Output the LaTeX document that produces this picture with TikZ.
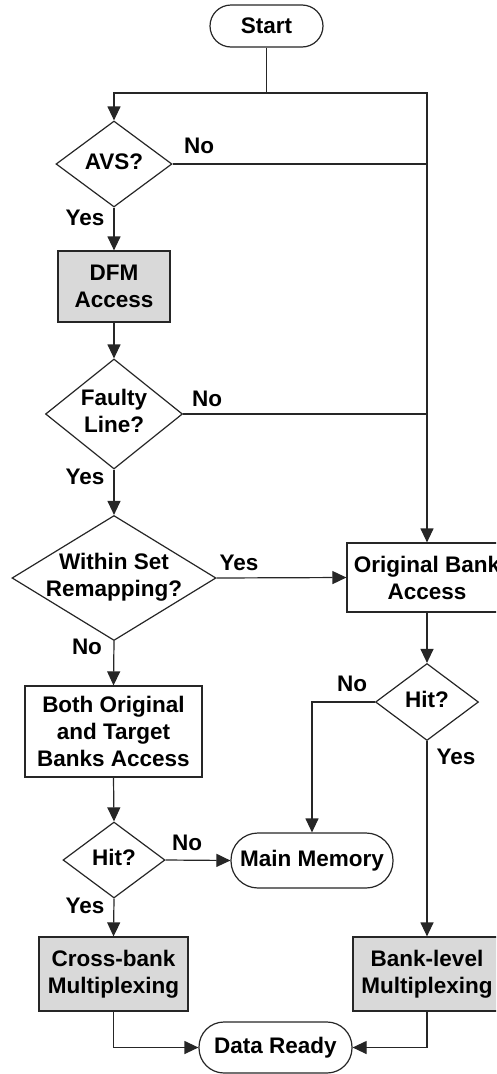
\documentclass[tikz,border=0pt]{standalone}
\usepackage{fontspec}
\setmainfont{Liberation Sans}
\usetikzlibrary{shapes.geometric,arrows.meta}

% text inside a diamond that does not widen the shape
\newcommand{\dtxt}[1]{\makebox[0pt]{\begin{tabular}{@{}c@{}}#1\end{tabular}}}

\begin{document}
\begin{tikzpicture}[x=1pt,y=-1pt,
  every node/.style={font=\fontsize{22.5}{27}\selectfont\bfseries},
  conn/.style={draw=black!85, line width=1.2pt},
  arr/.style={conn, -{Triangle[length=14pt,width=13pt]}},
  procbox/.style={draw=black!85, line width=1.2pt, fill=white, align=center, inner sep=0pt},
  shaded/.style={procbox, fill=black!15},
  terminal/.style={draw=black!85, line width=1.2pt, fill=white, rounded corners=#1, inner sep=0pt},
  decision/.style={diamond, draw=black!85, line width=1.2pt, fill=white, inner sep=0pt},
  tag/.style={inner sep=0pt}
]
\useasboundingbox (0,0) rectangle (496,1074);
\clip (0,0) rectangle (496,1074);

% terminals
\node[terminal=21pt, minimum width=113pt, minimum height=42pt] (start) at (266.5,26) {Start};
\node[terminal=27pt, minimum width=162pt, minimum height=55pt] (mem) at (312,860.5) {Main Memory};
\node[terminal=25pt, minimum width=153pt, minimum height=51pt] (ready) at (275.5,1047.5) {Data Ready};

% decisions
\node[decision, minimum width=116pt, minimum height=86pt] (avs) at (114,164) {\dtxt{AVS?}};
\node[decision, minimum width=137pt, minimum height=110pt] (faulty) at (114,414) {\dtxt{Faulty\\Line?}};
\node[decision, minimum width=204pt, minimum height=125pt] (within) at (114,578) {\dtxt{Within Set\\Remapping?}};
\node[decision, minimum width=102pt, minimum height=76pt] (lhit) at (114,860) {\dtxt{Hit?}};
\node[decision, minimum width=103pt, minimum height=77pt] (rhit) at (427,702) {\dtxt{Hit?}};

% processes
\node[shaded, minimum width=112pt, minimum height=71pt] (dfm) at (114,286.5) {DFM\\Access};
\node[procbox, minimum width=177pt, minimum height=91pt] (both) at (113.5,731.5) {Both Original\\and Target\\Banks Access};
\node[shaded, minimum width=149pt, minimum height=74pt] (cross) at (113.5,974) {Cross-bank\\Multiplexing};
\node[procbox, minimum width=160pt, minimum height=69pt] (orig) at (427,577.5) {Original Bank\\Access};
\node[shaded, minimum width=148pt, minimum height=74pt] (banklvl) at (427,974) {Bank-level\\Multiplexing};

% split below start
\coordinate (split) at (266.5,93);
\draw[conn] (start.south) -- (split);
\draw[arr] (split) -| (avs.north);
\draw[arr] (split) -| (orig.north);

% left column
\draw[conn] (avs.east) -- (avs.east -| orig.north);
\draw[arr] (avs.south) -- (dfm.north);
\draw[arr] (dfm.south) -- (faulty.north);
\draw[conn] (faulty.east) -- (faulty.east -| orig.north);
\draw[arr] (faulty.south) -- (within.north);
\draw[arr] (within.east) -- (orig.west);
\draw[arr] (within.south) -- (both.north);
\draw[arr] (both.south) -- (lhit.north);
\draw[arr] (lhit.east) -- (mem.west);
\draw[arr] (lhit.south) -- (cross.north);
\draw[arr] (cross.south) |- (ready.west);

% right column
\draw[arr] (orig.south) -- (rhit.north);
\draw[arr] (rhit.west) -| (mem.north);
\draw[arr] (rhit.south) -- (banklvl.north);
\draw[arr] (banklvl.south) |- (ready.east);

% branch labels
\node[tag] (l1) at (199,146) {No};
\node[tag] (l2) at (85,218) {Yes};
\node[tag] (l3) at (207,399) {No};
\node[tag] (l4) at (85,477) {Yes};
\node[tag] (l5) at (239,563) {Yes};
\node[tag] (l6) at (87,647) {No};
\node[tag] (l7) at (352,684) {No};
\node[tag] (l8) at (456,757) {Yes};
\node[tag] (l9) at (187,843) {No};
\node[tag] (l10) at (85,906) {Yes};
\end{tikzpicture}
\end{document}
